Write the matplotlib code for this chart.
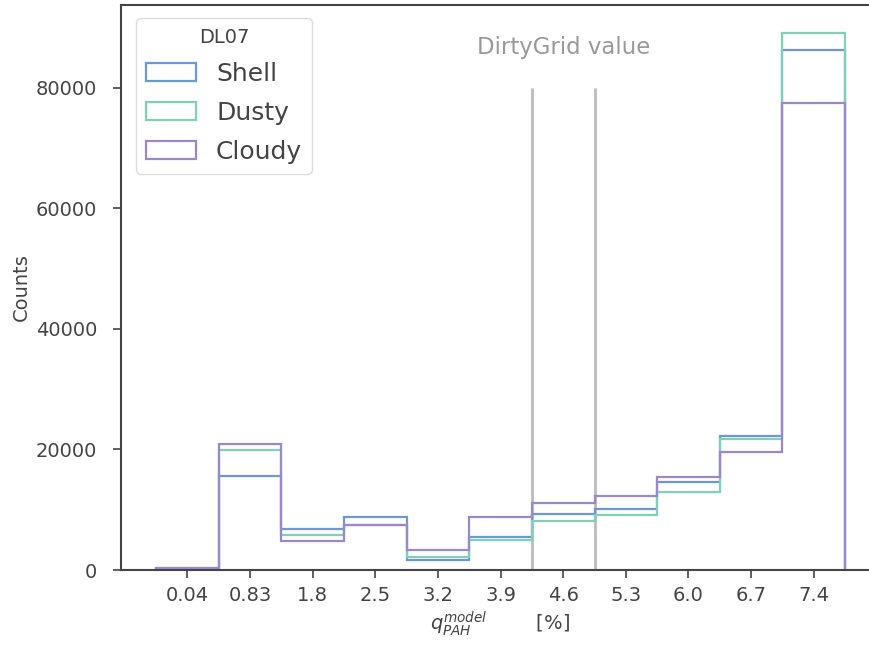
import numpy as np
import matplotlib
matplotlib.use("Agg")
import matplotlib.pyplot as plt

categories = ["0.04", "0.83", "1.8", "2.5", "3.2", "3.9", "4.6", "5.3", "6.0", "6.7", "7.4"]
shell = [200, 15600, 6860, 8850, 1700, 5400, 9300, 10180, 14600, 22190, 86300]
dusty = [250, 19900, 5800, 7400, 2100, 4930, 8180, 9130, 13000, 21740, 89130]
cloudy = [350, 20900, 4800, 7400, 3270, 8820, 11070, 12230, 15380, 19530, 77400]
series_names = ["Shell", "Dusty", "Cloudy"]
colors = ["#6b98d6", "#82cfb7", "#9a88c9"]
dirtygrid_edges = [5.5, 6.5]

text_color = "#444444"
plt.rcParams.update({
    "font.family": "DejaVu Sans",
    "text.color": text_color,
    "axes.labelcolor": text_color,
    "xtick.color": text_color,
    "ytick.color": text_color,
    "axes.edgecolor": text_color,
})

fig = plt.figure(figsize=(8.69, 6.46), dpi=100)
ax = fig.add_axes([121 / 869, 1 - 570 / 646, (879.5 - 121) / 869, (570 - 5) / 646])

pos = np.arange(len(categories))
edges = np.arange(len(categories) + 1) - 0.5
for vals, name, c in zip([shell, dusty, cloudy], series_names, colors):
    ax.hist(pos, bins=edges, weights=vals, histtype="step", color=c, lw=1.6, label=name)

for xv in dirtygrid_edges:
    ax.vlines(xv, 0, 80000, color="#bbbbbb", lw=2, zorder=0)
ax.text(np.mean(dirtygrid_edges), 86600, "DirtyGrid value", ha="center", va="center",
        fontsize=16.5, color="#999999")

ax.set_xticks(pos)
ax.set_xticklabels(categories)
ax.set_yticks([0, 20000, 40000, 60000, 80000])
ax.tick_params(labelsize=14, length=6, width=1.2)
ax.tick_params(axis="y", pad=11)
ax.tick_params(axis="x", pad=5.5)
ax.set_xlim(-1.06, 11.05)
ax.set_ylim(0, 93700)
for s in ax.spines.values():
    s.set_linewidth(1.5)
ax.spines["right"].set_visible(False)

ax.set_ylabel("Counts", fontsize=14)
ax.set_xlabel(r"$q_{PAH}^{model}$        [%]", fontsize=14, labelpad=3)

leg = ax.legend(title="DL07", loc="upper left", fontsize=18, title_fontsize=14,
                bbox_to_anchor=(0.0198, 0.977), borderaxespad=0,
                labelspacing=0.6,
                framealpha=1, edgecolor="#dddddd")
leg.get_title().set_color(text_color)

fig.savefig("out.png", dpi=100)
